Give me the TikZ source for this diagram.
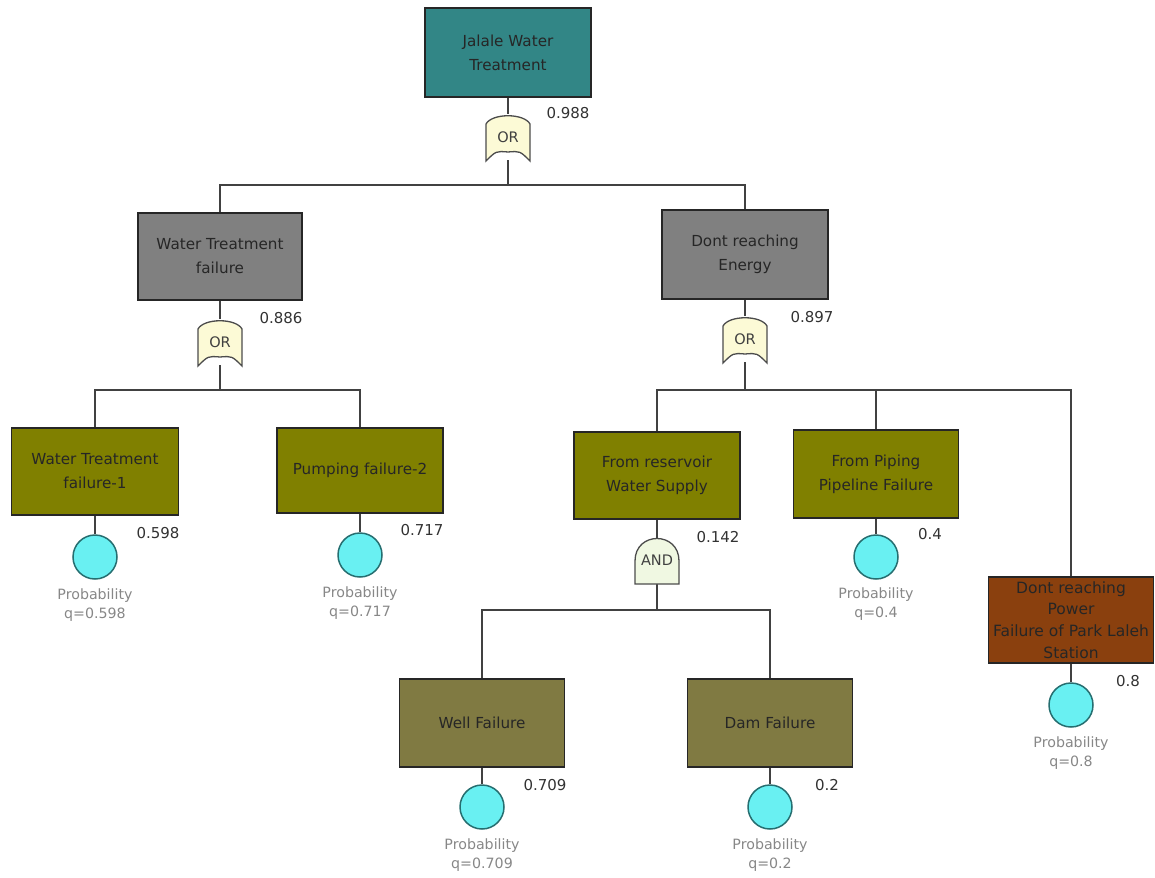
\documentclass[tikz,border=0pt]{standalone}
\usepackage{fontspec}
\setmainfont{DejaVu Sans}
\pgfdeclarelayer{bg}
\pgfsetlayers{bg,main}

\definecolor{tealbox}{RGB}{50,134,134}
\definecolor{greybox}{RGB}{128,128,128}
\definecolor{olivebox}{RGB}{128,128,0}
\definecolor{khakibox}{RGB}{128,122,66}
\definecolor{brownbox}{RGB}{138,64,14}
\definecolor{basic}{RGB}{105,240,242}
\definecolor{basicedge}{RGB}{38,110,112}
\definecolor{orfill}{RGB}{252,250,214}
\definecolor{andfill}{RGB}{240,248,226}
\definecolor{wire}{RGB}{65,65,65}
\definecolor{probtext}{RGB}{135,135,135}
\definecolor{valtext}{RGB}{50,50,50}

\tikzset{
  x=1pt, y=-1pt,
  event/.style={draw=black!85, line width=1.6pt, text=black!85, align=center,
    inner sep=0pt, minimum width=#1, font=\fontsize{15.2}{24}\selectfont},
  event/.default=166pt,
  basicev/.style={circle, draw=basicedge, line width=1.5pt, fill=basic,
    minimum size=44pt, inner sep=0pt},
  prob/.style={text=probtext, align=center, font=\fontsize{14.2}{19}\selectfont},
  value/.style={text=valtext, font=\fontsize{15}{18}\selectfont},
  gatelbl/.style={minimum width=44pt, minimum height=46pt, inner sep=0pt,
    text=black!75, font=\fontsize{14.5}{16}\selectfont},
  wiring/.style={draw=wire, line width=1.5pt},
  gateline/.style={draw=black!70, line width=1.3pt},
  pics/orgate/.style={code={
    \path[gateline, fill=orfill] (-22,24) -- (-22,-13)
      .. controls (-16,-24) and (16,-24) .. (22,-13) -- (22,24)
      .. controls (12,14) .. (0,15) .. controls (-12,14) .. (-22,24) -- cycle;
  }},
  pics/andgate/.style={code={
    \path[gateline, fill=andfill] (-22,23) -- (-22,0)
      .. controls (-22,-30) and (22,-30) .. (22,0) -- (22,23) -- cycle;
  }}
}

\begin{document}
\begin{tikzpicture}
\useasboundingbox (0,0) rectangle (1155,877);

% ---- events ----
\node[event, fill=tealbox, minimum height=89pt] (top) at (508,52.5) {Jalale Water\\Treatment};
\node[event=164pt, fill=greybox, minimum height=87pt] (wtf) at (220,256.5) {Water Treatment\\failure};
\node[event, fill=greybox, minimum height=89pt] (dre) at (745,254.5) {Dont reaching\\Energy};
\node[event=167pt, fill=olivebox, minimum height=87pt] (wt1) at (95,471.5) {Water Treatment\\failure-1};
\node[event, fill=olivebox, minimum height=85pt] (pf2) at (360,470.5) {Pumping failure-2};
\node[event, fill=olivebox, minimum height=87pt] (rws) at (657,475.5) {From reservoir\\Water Supply};
\node[event=165pt, fill=olivebox, minimum height=88pt] (ppf) at (876,474) {From Piping\\Pipeline Failure};
\node[event=165pt, fill=brownbox, minimum height=86pt, font=\fontsize{15.5}{21.7}\selectfont] (dpw) at (1071,620)
  {Dont reaching\\Power\\Failure of Park Laleh\\Station};
\node[event=165pt, fill=khakibox, minimum height=88pt] (well) at (482,723) {Well Failure};
\node[event=165pt, fill=khakibox, minimum height=88pt] (dam) at (770,723) {Dam Failure};

% ---- gates ----
\pic at (508,137) {orgate};
\node[gatelbl] (g1) at (508,137) {OR};
\pic at (220,342) {orgate};
\node[gatelbl] (g2) at (220,342) {OR};
\pic at (745,339) {orgate};
\node[gatelbl] (g3) at (745,339) {OR};
\pic at (657,561) {andgate};
\node[gatelbl] (g4) at (657,561) {\raisebox{1pt}{AND}};

% ---- basic events ----
\node[basicev] (c1) at (95,557) {};
\node[basicev] (c2) at (360,555) {};
\node[basicev] (c3) at (876,557) {};
\node[basicev] (c4) at (1071,705) {};
\node[basicev] (c5) at (482,807) {};
\node[basicev] (c6) at (770,807) {};

\node[prob] (p1) at (95,605) {Probability\\q=0.598};
\node[prob] (p2) at (360,603) {Probability\\q=0.717};
\node[prob] (p3) at (876,604) {Probability\\q=0.4};
\node[prob] (p4) at (1071,753) {Probability\\q=0.8};
\node[prob] (p5) at (482,855) {Probability\\q=0.709};
\node[prob] (p6) at (770,855) {Probability\\q=0.2};

% ---- probabilities of the events ----
\node[value] (v0) at (568,113) {0.988};
\node[value] (v1) at (281,318) {0.886};
\node[value] (v2) at (812,317) {0.897};
\node[value] (v3) at (158,533) {0.598};
\node[value] (v4) at (422,530) {0.717};
\node[value] (v5) at (718,537) {0.142};
\node[value] (v6) at (930,534) {0.4};
\node[value] (v7) at (1128,681) {0.8};
\node[value] (v8) at (545,785) {0.709};
\node[value] (v9) at (827,785) {0.2};

% ---- junction points ----
\coordinate (j1) at (508,185);
\coordinate (j2) at (220,390);
\coordinate (j3) at (745,390);
\coordinate (j4) at (657,610);

% ---- connectors ----
\begin{pgfonlayer}{bg}
  \draw[wiring] (top.south) -- (g1.north);
  \draw[wiring] (g1.south) -- (j1);
  \draw[wiring] (j1) -| (wtf.north);
  \draw[wiring] (j1) -| (dre.north);

  \draw[wiring] (wtf.south) -- (g2.north);
  \draw[wiring] (g2.south) -- (j2);
  \draw[wiring] (j2) -| (wt1.north);
  \draw[wiring] (j2) -| (pf2.north);

  \draw[wiring] (dre.south) -- (g3.north);
  \draw[wiring] (g3.south) -- (j3);
  \draw[wiring] (j3) -| (rws.north);
  \draw[wiring] (j3) -| (ppf.north);
  \draw[wiring] (j3) -| (dpw.north);

  \draw[wiring] (rws.south) -- (g4.north);
  \draw[wiring] (g4.south) -- (j4);
  \draw[wiring] (j4) -| (well.north);
  \draw[wiring] (j4) -| (dam.north);

  \draw[wiring] (wt1.south) -- (c1.north);
  \draw[wiring] (pf2.south) -- (c2.north);
  \draw[wiring] (ppf.south) -- (c3.north);
  \draw[wiring] (dpw.south) -- (c4.north);
  \draw[wiring] (well.south) -- (c5.north);
  \draw[wiring] (dam.south) -- (c6.north);
\end{pgfonlayer}
\end{tikzpicture}
\end{document}
